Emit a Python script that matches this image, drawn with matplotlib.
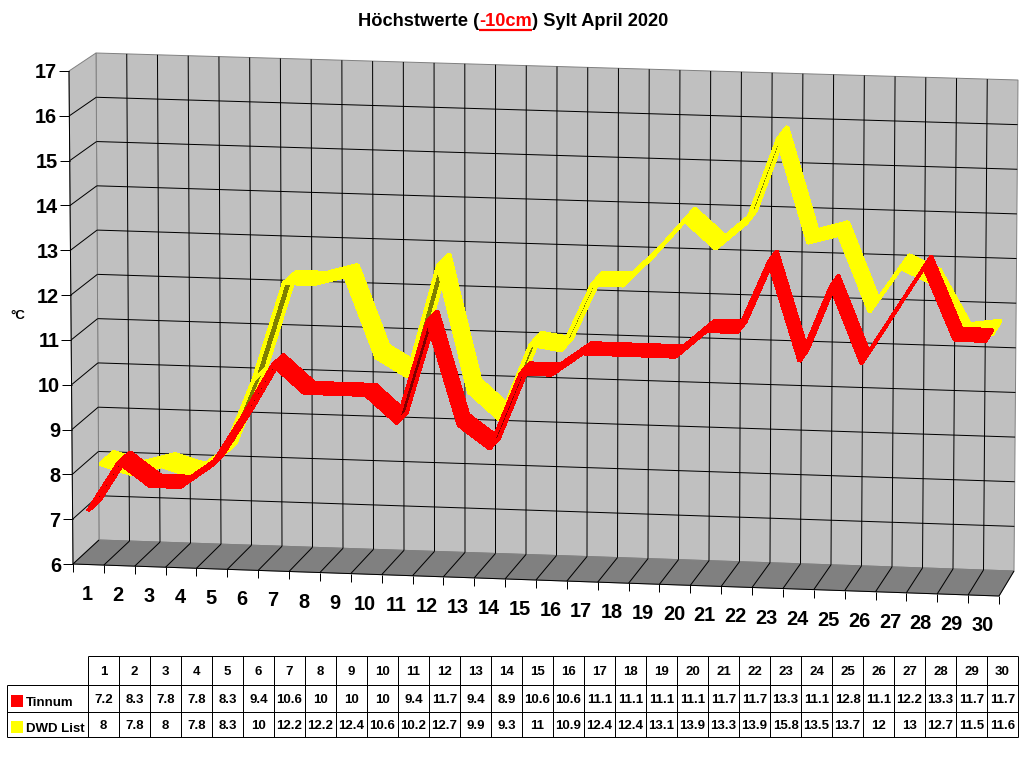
"""
3D ribbon chart of the april highs on Sylt, with data table below
"""

import matplotlib
matplotlib.use("Agg")
import matplotlib.pyplot as plt
from matplotlib.patches import Polygon, Rectangle

# chart data
days = list(range(1, 31))
tinnum = [7.2, 8.3, 7.8, 7.8, 8.3, 9.4, 10.6, 10, 10, 10, 9.4, 11.7, 9.4, 8.9, 10.6,
          10.6, 11.1, 11.1, 11.1, 11.1, 11.7, 11.7, 13.3, 11.1, 12.8, 11.1, 12.2, 13.3, 11.7, 11.7]
dwd_list = [8, 7.8, 8, 7.8, 8.3, 10, 12.2, 12.2, 12.4, 10.6, 10.2, 12.7, 9.9, 9.3, 11,
            10.9, 12.4, 12.4, 13.1, 13.9, 13.3, 13.9, 15.8, 13.5, 13.7, 12, 13, 12.7, 11.5, 11.6]
y_ticks = list(range(6, 18))

Y_MIN = 6
Y_MAX = 17

# corners of the 3D box in pixels
FRONT_BL = (73, 564)
FRONT_TL = (69, 71)
FRONT_BR = (999, 596)
FRONT_TR = (1003, 105)
BACK_BL = (99, 540)
BACK_TL = (96, 53)
BACK_BR = (1014, 571)
BACK_TR = (1018, 80)

GRID_LW = 0.72
plt.rcParams["font.family"] = ["Liberation Sans", "DejaVu Sans"]

fig = plt.figure(figsize=(10.24, 7.68), dpi=100)
ax = fig.add_axes([0, 0, 1, 1])
ax.set_xlim(0, 1024)
ax.set_ylim(768, 0)
ax.axis("off")


def mix(a, b, t):
    return (a[0] + (b[0] - a[0]) * t, a[1] + (b[1] - a[1]) * t)


# u: 0-1 along the days, value: temperature, d: 0 front - 1 back
def project(u, value, d):
    v = (value - Y_MIN) / (Y_MAX - Y_MIN)
    front = mix(mix(FRONT_BL, FRONT_BR, u), mix(FRONT_TL, FRONT_TR, u), v)
    back = mix(mix(BACK_BL, BACK_BR, u), mix(BACK_TL, BACK_TR, u), v)
    return mix(front, back, d)


# aliased lines come out too heavy when sloped, so keep antialiasing on here
def line(p, q, color="black", lw=GRID_LW, z=2):
    ax.plot([p[0], q[0]], [p[1], q[1]], color=color, lw=lw,
            solid_capstyle="butt", zorder=z)


# walls and floor
ax.add_patch(Polygon([BACK_BL, BACK_BR, BACK_TR, BACK_TL], fc="#C0C0C0", ec="#808080", lw=0.7, zorder=1))
ax.add_patch(Polygon([FRONT_BL, BACK_BL, BACK_TL, FRONT_TL], fc="#C0C0C0", ec="#808080", lw=0.7, zorder=1))
ax.add_patch(Polygon([FRONT_BL, FRONT_BR, BACK_BR, BACK_BL], fc="#808080", ec="#808080", lw=0.7, zorder=1))

# horizontal grid on both walls and ticks on the left
for t in y_ticks:
    if Y_MIN < t < Y_MAX:
        line(project(0, t, 0), project(0, t, 1))
        line(project(0, t, 1), project(1, t, 1))
    p = project(0, t, 0)
    line((p[0] - 10, p[1]), p)
    ax.text(p[0] - 12, p[1], str(t), ha="right", va="center_baseline", fontsize=14.4,
            fontweight="bold", color="black")

# vertical grid, floor lines and day ticks
for i in range(31):
    u = i / 30
    if 0 < i < 30:
        line(project(u, Y_MIN, 1), project(u, Y_MAX, 1))
    line(project(u, Y_MIN, 0), project(u, Y_MIN, 1))
    p = project(u, Y_MIN, 0)
    line(p, (p[0], p[1] + 8))

line(FRONT_BL, FRONT_BR)
line(FRONT_BL, FRONT_TL)

for i, day in enumerate(days):
    p = project((i + 0.5) / 30, Y_MIN, 0)
    ax.text(p[0] - 1, p[1] + 28, str(day), ha="center", va="center_baseline", fontsize=14.4,
            fontweight="bold", color="black")


# one ribbon, dark where the underside faces the viewer, outlined in the series colour
def ribbon(values, d0, d1, color, dark, z):
    for i in range(len(values) - 1):
        u0 = (i + 0.5) / 30
        u1 = (i + 1.5) / 30
        a = project(u0, values[i], d0)
        b = project(u1, values[i + 1], d0)
        c = project(u1, values[i + 1], d1)
        e = project(u0, values[i], d1)
        area = (b[0] - a[0]) * (e[1] - a[1]) - (b[1] - a[1]) * (e[0] - a[0])
        face = color if area < 0 else dark
        ax.add_patch(Polygon([a, b, c, e], fc=face, ec=color, lw=2.0, joinstyle="bevel",
                             antialiased=False, zorder=z + i * 0.01))


ribbon(dwd_list, 0.47, 1.0, "#FFFF00", "#808000", 3)
ribbon(tinnum, 0.0, 0.45, "#FF0000", "#800000", 4)

# title in three pieces, middle one red and underlined
fig.canvas.draw()
renderer = fig.canvas.get_renderer()
title_parts = [("Höchstwerte (", "black"), ("-10cm", "#FF0000"), (") Sylt April 2020", "black")]
tx = 358
for part, col in title_parts:
    txt = ax.text(tx, 20, part, ha="left", va="center_baseline", fontsize=13.15, fontweight="bold", color=col)
    ext = txt.get_window_extent(renderer)
    if col != "black":
        line((tx, 30), (tx + ext.width, 30), color=col, lw=1.6)
    tx += ext.width

ax.text(18, 316, "°C", ha="center", va="center", fontsize=9.5, fontweight="bold", color="black")

# data table
col_x = 88
col_w = 31
row_y = [656, 685, 712, 737]
left = 7
right = col_x + col_w * 30
line((col_x, row_y[0]), (right, row_y[0]), z=5)
for y in row_y[1:]:
    line((left, y), (right, y), z=5)
line((left, row_y[1]), (left, row_y[3]), z=5)
for i in range(31):
    line((col_x + i * col_w, row_y[0]), (col_x + i * col_w, row_y[3]), z=5)


def cell(x, y, s, ha="center"):
    ax.text(x, y, s, ha=ha, va="center_baseline", fontsize=9.5, fontweight="bold",
            color="black", zorder=6)


for i, day in enumerate(days):
    cx = col_x + (i + 0.5) * col_w
    cell(cx, (row_y[0] + row_y[1]) / 2, str(day))
    cell(cx, (row_y[1] + row_y[2]) / 2, str(tinnum[i]))
    cell(cx, (row_y[2] + row_y[3]) / 2, str(dwd_list[i]))

ax.add_patch(Rectangle((11, 695), 12, 12, fc="#FF0000", ec="none", zorder=6))
ax.add_patch(Rectangle((11, 721), 12, 12, fc="#FFFF00", ec="none", zorder=6))
cell(26, 702, "Tinnum", ha="left")
cell(26, 727, "DWD List", ha="left")

fig.savefig("out.png", dpi=100, facecolor="white")
